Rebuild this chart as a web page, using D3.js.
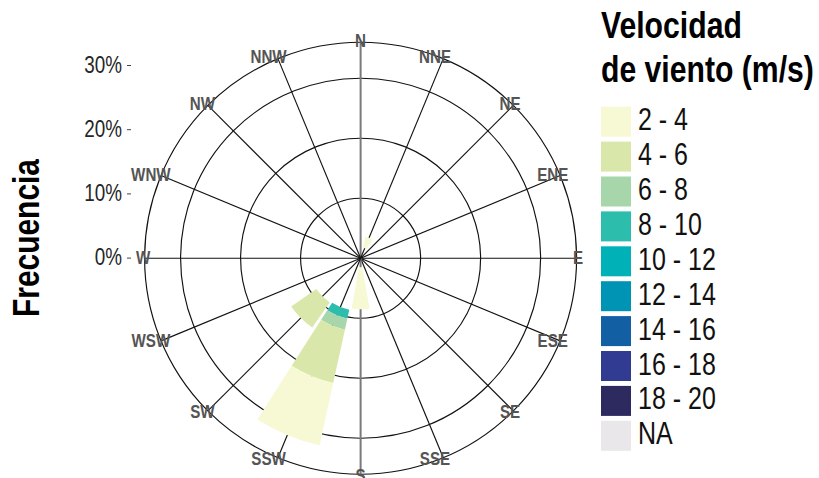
<!DOCTYPE html>
<html>
<head>
<meta charset="utf-8">
<script src="https://cdn.jsdelivr.net/npm/d3@7"></script>
<style>
  html, body { margin: 0; padding: 0; background: #ffffff; }
  svg { display: block; }
</style>
</head>
<body>
<svg id="chart" width="819" height="478"></svg>
<script>
// Wind directions (clockwise from north)
const directions = ["N","NNE","NE","ENE","E","ESE","SE","SSE","S","SSW","SW","WSW","W","WNW","NW","NNW"];

// Speed classes shown in the legend and their fills
const speedBins = ["2 - 4","4 - 6","6 - 8","8 - 10","10 - 12","12 - 14","14 - 16","16 - 18","18 - 20","NA"];
const binColors = ["#f7f8d4","#d9e8aa","#a8d6ab","#2dbdac","#00b2b8","#0094b4","#135fa3","#323b92","#2d2a5f","#e9e7e9"];

// Frequency (%) per direction, one array per speed class, in the order of `directions`
const freqCalm  = [0, 1.8, 0, 0, 0, 0, 0, 0, 1.5, 8.8, 9.0, 0, 0, 0, 0, 0]; // 0 - 2 m/s, left unfilled
const freq2to4  = [0, 1.9, 0, 0, 0, 0, 0, 0, 7.0, 10.6, 0, 0, 0, 0, 0, 0];
const freq4to6  = [0, 0, 0, 0, 0, 0, 0, 0, 0, 9.1, 5.1, 0, 0, 0, 0, 0];
const freq6to8  = [0, 0, 0, 0, 0, 0, 0, 0, 0, 1.9, 0, 0, 0, 0, 0, 0];
const freq8to10 = [0, 0, 0, 0, 0, 0, 0, 0, 0, 1.5, 0, 0, 0, 0, 0, 0];
const zeros = directions.map(() => 0);

// Radial tick values and labels
const radialTicks = [10, 20, 30];
const axisTicks = [0, 10, 20, 30];
const axisTickLabels = ["0%", "10%", "20%", "30%"];

const legendTitle = ["Velocidad", "de viento (m/s)"];
const axisTitle = "Frecuencia";

// ---------------------------------------------------------------
// Condensed sans: Liberation Sans squeezed horizontally (Arial Narrow proportions)
const fontFamily = "'Liberation Sans', Arial, sans-serif";
const squeeze = 0.82;
const svg = d3.select("#chart");
const cx = 360.6, cy = 258.2, outerR = 216;

const seriesByBin = {
  "0 - 2": freqCalm, "2 - 4": freq2to4, "4 - 6": freq4to6, "6 - 8": freq6to8, "8 - 10": freq8to10,
  "10 - 12": zeros, "12 - 14": zeros, "14 - 16": zeros, "16 - 18": zeros, "18 - 20": zeros, "NA": zeros
};
const rows = directions.map((dir, i) => {
  const row = { dir };
  for (const k in seriesByBin) row[k] = seriesByBin[k][i];
  return row;
});

// Stack from the centre outwards: calm first, then fastest to slowest
const stackKeys = ["0 - 2"].concat(speedBins.slice().reverse());
const stacked = d3.stack().keys(stackKeys)(rows);

const color = d3.scaleOrdinal().domain(speedBins).range(binColors);

const step = 2 * Math.PI / directions.length;
const theta = d3.scaleBand()
  .domain(directions)
  .range([-step / 2, 2 * Math.PI - step / 2])
  .paddingInner(0.1)
  .paddingOuter(0.05);

const r = d3.scaleLinear().domain([0, 36]).range([0, outerR]);

const plot = svg.append("g").attr("transform", `translate(${cx},${cy})`);

// Grid: rings
plot.append("g").selectAll("circle")
  .data(radialTicks.concat([36]))
  .join("circle")
  .attr("r", d => r(d))
  .attr("fill", "none")
  .attr("stroke", "#111111")
  .attr("stroke-width", 1.15);

// Grid: spokes
const angleOf = d => theta(d) + theta.bandwidth() / 2;
plot.append("g").selectAll("line")
  .data(directions)
  .join("line")
  .attr("x1", 0).attr("y1", 0)
  .attr("x2", d => r(36) * Math.sin(angleOf(d)))
  .attr("y2", d => -r(36) * Math.cos(angleOf(d)))
  .attr("stroke", d => (d === "N" || d === "S") ? "#7a7a7a" : "#111111")
  .attr("stroke-width", d => (d === "N" || d === "S") ? 2 : 1.15);

// Bars
const arc = d3.arc();
plot.append("g").selectAll("g")
  .data(stacked)
  .join("g")
  .attr("fill", s => s.key === "0 - 2" ? "none" : color(s.key))
  .selectAll("path")
  .data(s => s.filter(d => d[1] - d[0] > 0))
  .join("path")
  .attr("d", d => arc({
    innerRadius: r(d[0]),
    outerRadius: r(d[1]),
    startAngle: theta(d.data.dir),
    endAngle: theta(d.data.dir) + theta.bandwidth()
  }));

// Direction labels on the outer ring (longer names sit slightly to the left)
plot.append("g").selectAll("text")
  .data(directions)
  .join("text")
  .attr("transform", d => {
    const x = (outerR + 1.5) * Math.sin(angleOf(d)) - 4.4 * (d.length - 1);
    const y = -(outerR + 1.5) * Math.cos(angleOf(d));
    return `translate(${x},${y}) scale(${squeeze},1)`;
  })
  .attr("text-anchor", "middle")
  .attr("dominant-baseline", "central")
  .attr("font-family", fontFamily)
  .attr("font-weight", "bold")
  .attr("font-size", 18.5)
  .attr("fill", "#555555")
  .text(d => d);

// Left frequency axis
const yAxisScale = d3.scaleLinear().domain([0, 30]).range([257.6, 65]);
const yAxis = svg.append("g")
  .attr("transform", "translate(131,0)")
  .call(d3.axisLeft(yAxisScale)
    .tickValues(axisTicks)
    .tickFormat((d, i) => axisTickLabels[i])
    .tickSize(4)
    .tickPadding(5));
yAxis.select(".domain").remove();
yAxis.selectAll(".tick line").attr("stroke", "#444444");
yAxis.selectAll(".tick text")
  .attr("x", 0)
  .attr("transform", `translate(-9,0) scale(${squeeze},1)`)
  .attr("font-family", fontFamily)
  .attr("font-size", 23)
  .attr("fill", "#262626");

svg.append("text")
  .attr("transform", `translate(38.5,238) rotate(-90) scale(${squeeze},1)`)
  .attr("text-anchor", "middle")
  .attr("font-family", fontFamily)
  .attr("font-weight", "bold")
  .attr("font-size", 36.5)
  .attr("fill", "#000000")
  .text(axisTitle);

// Legend
const legend = svg.append("g");
legend.selectAll("text.title")
  .data(legendTitle)
  .join("text")
  .attr("class", "title")
  .attr("transform", (d, i) => `translate(601,${38.3 + i * 43.4}) scale(${squeeze},1)`)
  .attr("font-family", fontFamily)
  .attr("font-weight", "bold")
  .attr("font-size", 36.8)
  .attr("fill", "#000000")
  .text(d => d);

const items = legend.selectAll("g.item")
  .data(speedBins)
  .join("g")
  .attr("class", "item")
  .attr("transform", (d, i) => `translate(601,${106.7 + i * 34.9})`);
items.append("rect")
  .attr("width", 30).attr("height", 30)
  .attr("fill", d => color(d));
items.append("text")
  .attr("transform", `translate(37,23.5) scale(${squeeze},1)`)
  .attr("font-family", fontFamily)
  .attr("font-size", 30.5)
  .attr("fill", "#111111")
  .text(d => d);
</script>
</body>
</html>
